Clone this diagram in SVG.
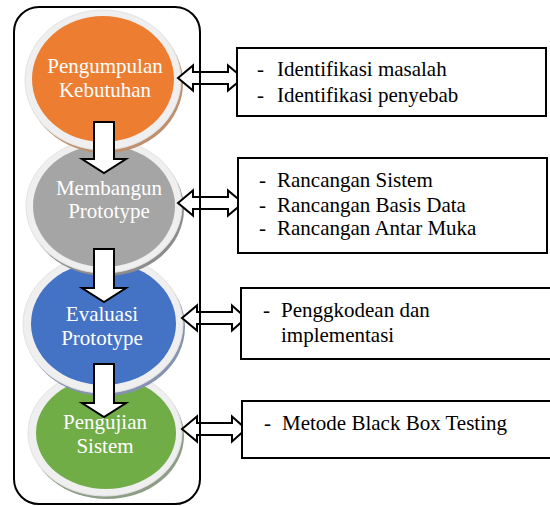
<svg xmlns="http://www.w3.org/2000/svg" width="550" height="506" viewBox="0 0 550 506">
<style>
.ring{fill:#efefef;stroke:#e2e2e2;stroke-width:1}
.ct{font-family:"Liberation Serif","Times New Roman",serif;font-size:21px;fill:#ffffff;text-anchor:middle}
.bt{font-family:"Liberation Serif","Times New Roman",serif;font-size:21px;fill:#000000}
.box{fill:#ffffff;stroke:#000000;stroke-width:2}
.arr{fill:#ffffff;stroke:#000000;stroke-width:2;stroke-linejoin:miter}
</style>
<rect width="550" height="506" fill="#ffffff"/>
<g id="node-pengujian">
<ellipse cx="107" cy="436" rx="77" ry="63" fill="#8e9d86"/>
<ellipse class="ring" cx="105" cy="433" rx="77" ry="63"/>
<ellipse cx="106" cy="433" rx="70" ry="56" fill="#70ad47"/>
<text class="ct" x="105" y="429">Pengujian</text>
<text class="ct" x="105" y="453">Sistem</text>
</g>
<g id="node-evaluasi">
<ellipse cx="105" cy="327" rx="80" ry="69" fill="#8593b0"/>
<ellipse class="ring" cx="103" cy="324" rx="80" ry="69"/>
<ellipse cx="103.5" cy="323.5" rx="72.5" ry="61.5" fill="#4472c4"/>
<text class="ct" x="102" y="321">Evaluasi</text>
<text class="ct" x="102" y="345">Prototype</text>
</g>
<g id="node-membangun">
<ellipse cx="106" cy="209" rx="78" ry="67" fill="#8c8c8c"/>
<ellipse class="ring" cx="104" cy="206" rx="78" ry="67"/>
<ellipse cx="104" cy="206" rx="71" ry="61" fill="#a5a5a5"/>
<text class="ct" x="109" y="195" fill="#f4f4f4">Membangun</text>
<text class="ct" x="109" y="218" fill="#f4f4f4">Prototype</text>
</g>
<g id="node-pengumpulan">
<ellipse cx="105" cy="83" rx="78" ry="70" fill="#c0906e"/>
<ellipse class="ring" cx="103" cy="80" rx="78" ry="70"/>
<ellipse cx="103" cy="79" rx="71" ry="63" fill="#ed7d31"/>
<text class="ct" x="105" y="73">Pengumpulan</text>
<text class="ct" x="105" y="97">Kebutuhan</text>
</g>
<g id="connectors">
<path class="arr" d="M94,122 H114 V159 H126 L104,173 L82,159 H94 Z"/>
<path class="arr" d="M94,249 H114 V288 H126 L104,302 L82,288 H94 Z"/>
<path class="arr" d="M94,364 H114 V403 H126 L104,417 L82,403 H94 Z"/>
<path class="arr" d="M178,78 L193,65.5 V72 H228 V65.5 L243,78 L228,90.5 V84 H193 V90.5 Z"/>
<path class="arr" d="M178,203 L193,190.5 V197 H228 V190.5 L243,203 L228,215.5 V209 H193 V215.5 Z"/>
<path class="arr" d="M182,318 L197,305.5 V312 H232 V305.5 L246,318 L232,330.5 V324 H197 V330.5 Z"/>
<path class="arr" d="M182,429 L197,416.5 V423 H232 V416.5 L246,429 L232,441.5 V435 H197 V441.5 Z"/>
</g>
<g id="container">
<rect x="14" y="7" width="186" height="497" rx="25" ry="25" fill="none" stroke="#000000" stroke-width="2"/>
</g>
<g id="box-1">
<rect class="box" x="237" y="48" width="309" height="68"/>
<text class="bt" x="257" y="76">-</text>
<text class="bt" x="277" y="76">Identifikasi masalah</text>
<text class="bt" x="257" y="102">-</text>
<text class="bt" x="277" y="102">Identifikasi penyebab</text>
</g>
<g id="box-2">
<rect class="box" x="238" y="158" width="309" height="95"/>
<text class="bt" x="259" y="187">-</text>
<text class="bt" x="277" y="187">Rancangan Sistem</text>
<text class="bt" x="259" y="212">-</text>
<text class="bt" x="277" y="212">Rancangan Basis Data</text>
<text class="bt" x="259" y="235">-</text>
<text class="bt" x="277" y="235">Rancangan Antar Muka</text>
</g>
<g id="box-3">
<rect class="box" x="241" y="288" width="315" height="71"/>
<text class="bt" x="263" y="317">-</text>
<text class="bt" x="281" y="317">Penggkodean dan</text>
<text class="bt" x="281" y="342">implementasi</text>
</g>
<g id="box-4">
<rect class="box" x="242" y="401" width="315" height="57"/>
<text class="bt" x="264" y="430">-</text>
<text class="bt" x="282" y="430">Metode Black Box Testing</text>
</g>
</svg>
